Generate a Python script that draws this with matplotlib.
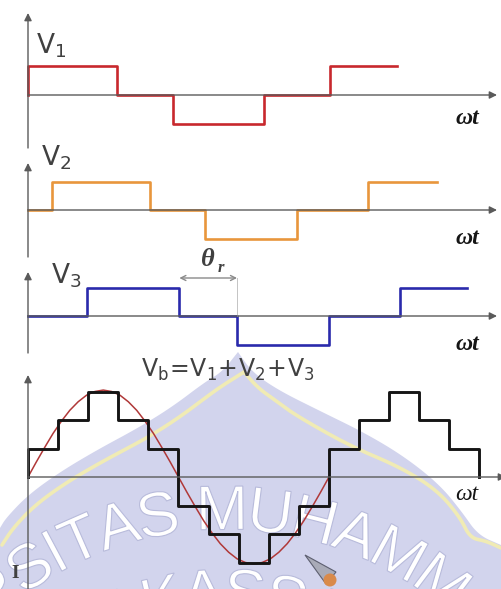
"""Multilevel inverter staircase synthesis: V1, V2, V3 and their sum Vb."""
import numpy as np
import matplotlib

matplotlib.use("Agg")
import matplotlib.pyplot as plt  # noqa: E402
from matplotlib.font_manager import FontProperties  # noqa: E402
from matplotlib.patches import Circle, PathPatch, Polygon  # noqa: E402
from matplotlib.textpath import TextPath, text_to_path  # noqa: E402
from matplotlib.transforms import Affine2D  # noqa: E402

plt.rcParams["mathtext.fontset"] = "custom"
plt.rcParams["mathtext.rm"] = "Liberation Sans"
plt.rcParams["mathtext.it"] = "Liberation Sans:italic"

W, H = 501, 589

# x is the phase angle in degrees (360 = one period of the staircase sum)
V1_X = [0, 0, 106, 173, 282, 361, 441]
V1_Y = [0, 1, 0, -1, 0, 1, 1]
V2_X = [0, 29, 146, 212, 322, 407, 489]
V2_Y = [0, 1, 0, -1, 0, 1, 1]
V3_X = [0, 71, 181, 250, 360, 445, 525]
V3_Y = [0, 1, 0, -1, 0, 1, 1]
VB_X = [0, 0, 36, 72, 108, 144, 180, 216, 252, 288, 324, 360, 396, 432, 468, 504, 540]
VB_Y = [0, 1, 2, 3, 2, 1, -1, -2, -3, -2, -1, 1, 2, 3, 2, 1, 0]
# fundamental drawn over the first period of Vb
SINE_X = [0, 10, 20, 30, 40, 50, 60, 70, 80, 90, 100, 110, 120, 130, 140, 150, 160, 170,
          180, 190, 200, 210, 220, 230, 240, 250, 260, 270, 280, 290, 300, 310, 320, 330,
          340, 350, 360]
SINE_Y = [0.00, 0.53, 1.04, 1.53, 1.96, 2.34, 2.64, 2.87, 3.00, 3.05, 3.00, 2.87, 2.64,
          2.34, 1.96, 1.53, 1.04, 0.53, 0.00, -0.53, -1.04, -1.53, -1.96, -2.34, -2.64,
          -2.87, -3.00, -3.05, -3.00, -2.87, -2.64, -2.34, -1.96, -1.53, -1.04, -0.53, 0.00]

RED, ORANGE, BLUE, BLACK = "#c8282d", "#e8963c", "#2a2aac", "#151515"
SINE_C = "#b03838"
AXIS_C = "#5a5a5a"
TEXT_C = "#404040"

X0_PX = 28                  # pixel column of the vertical axes
DEG_PER_PX = 360 / 301      # one staircase period spans ~301 px

fig = plt.figure(figsize=(W / 100, H / 100), dpi=100)


def fpos(x, y):
    """pixel (x right, y down) -> figure fraction"""
    return x / W, 1 - y / H


# ---- background emblem (pale dome, ribbon and lettering) ----------------
bg = fig.add_axes([0, 0, 1, 1], zorder=-5)
bg.set_xlim(0, W)
bg.set_ylim(0, H)
bg.axis("off")


def chaikin(pts, it=4):
    p = np.asarray(pts, float)
    for _ in range(it):
        q = 0.75 * p[:-1] + 0.25 * p[1:]
        r = 0.25 * p[:-1] + 0.75 * p[1:]
        mid = np.empty((2 * len(q), 2))
        mid[0::2], mid[1::2] = q, r
        p = np.vstack([p[:1], mid, p[-1:]])
    p[:, 1] = H - p[:, 1]
    return p


dome_left = chaikin([(238, 352), (222, 372), (205, 382), (172, 407), (138, 428), (97, 450),
                     (60, 472), (28, 495), (6, 518), (0, 528)])
dome_right = chaikin([(238, 352), (252, 372), (278, 390), (318, 410), (365, 433), (405, 457),
                      (440, 485), (462, 512), (478, 535), (501, 545)])
outline = np.vstack([[[0, 0]], dome_left[::-1], dome_right, [[W, 0]]])
bg.add_patch(Polygon(outline, closed=True, fc="#d2d4ed", ec="none"))

rib_left = chaikin([(244, 372), (228, 382), (213, 392), (180, 417), (147, 438), (105, 460),
                    (67, 482), (35, 505), (13, 528), (2, 545)])
rib_right = chaikin([(244, 372), (258, 388), (275, 400), (295, 415), (350, 446), (400, 467),
                     (437, 490), (460, 517), (470, 538), (486, 541), (501, 548)])
for rib in (rib_left, rib_right):
    bg.plot(rib[:, 0], rib[:, 1], color="#f0ebb4", lw=2.6, solid_capstyle="round")

CX, CY = 225, H - 870


def arc_text(text, r_mid, anchor_idx, anchor_s, size):
    fp = FontProperties(family="Liberation Sans", size=size)
    widths = [text_to_path.get_text_width_height_descent(ch, fp, ismath=False)[0]
              if ch != " " else 0.28 * size for ch in text]
    centers = np.cumsum(widths) - np.asarray(widths) / 2
    centers += anchor_s - centers[anchor_idx]
    cap = 0.716 * size
    for ch, w, s in zip(text, widths, centers):
        if ch == " ":
            continue
        th = np.pi / 2 - s / r_mid
        glyph = TextPath((-w / 2, -cap / 2), ch, size=size, prop=fp)
        tr = Affine2D().rotate(th - np.pi / 2).translate(CX + r_mid * np.cos(th),
                                                          CY + r_mid * np.sin(th))
        bg.add_patch(PathPatch(tr.transform_path(glyph), fc="white", ec="#b8bbdb", lw=0.8))


arc_text("UNIVERSITAS MUHAMMADIYAH", 363, 6, -208, 63)
arc_text("MAKASSAR", 280, 3, -22, 63)

# small pen nib
bg.add_patch(Polygon([(305, H - 555), (336, H - 572), (326, H - 584)],
                     closed=True, fc="#a9abb8", ec="#5d5f70", lw=0.8))
bg.add_patch(Circle((330, H - 580), 6.5, fc="#d98a4a", ec="none"))


# ---- waveform panels -----------------------------------------------------
def panel(zero_px, unit_px, top_px, bottom_px):
    ax = fig.add_axes([0, 1 - bottom_px / H, 1, (bottom_px - top_px) / H])
    ax.set_xlim(-X0_PX * DEG_PER_PX, (W - X0_PX) * DEG_PER_PX)
    ax.set_ylim(-(bottom_px - zero_px) / unit_px, (zero_px - top_px) / unit_px)
    ax.axis("off")
    return ax


def draw_axes(ax, x_tip_px):
    y_lo, y_hi = ax.get_ylim()
    style = dict(arrowstyle="-|>", color=AXIS_C, lw=1.0, mutation_scale=11,
                 shrinkA=0, shrinkB=0)
    ax.annotate("", xy=((x_tip_px - X0_PX) * DEG_PER_PX, 0), xytext=(0, 0),
                arrowprops=style, annotation_clip=False)
    ax.annotate("", xy=(0, y_hi), xytext=(0, y_lo), arrowprops=style,
                annotation_clip=False)


def omega_t(x, y, bold=True):
    fig.text(*fpos(x, y), "ωt", family="Liberation Serif", style="italic",
             weight="bold" if bold else "normal", fontsize=17, color=BLACK,
             ha="center", va="center")


ax1 = panel(95, 29, 13, 148)
draw_axes(ax1, 497)
ax1.plot(V1_X, V1_Y, drawstyle="steps-post", color=RED, lw=1.9)
fig.text(*fpos(36, 53), r"$\mathregular{V_1}$", fontsize=19, color=TEXT_C)
omega_t(467, 119)

ax2 = panel(210, 28.5, 163, 257)
draw_axes(ax2, 497)
ax2.plot(V2_X, V2_Y, drawstyle="steps-post", color=ORANGE, lw=1.9)
fig.text(*fpos(41, 166), r"$\mathregular{V_2}$", fontsize=19, color=TEXT_C)
omega_t(467, 238)

ax3 = panel(316, 28.5, 272, 353)
draw_axes(ax3, 497)
ax3.plot(V3_X, V3_Y, drawstyle="steps-post", color=BLUE, lw=1.9)
fig.text(*fpos(51, 283), r"$\mathregular{V_3}$", fontsize=19, color=TEXT_C)
omega_t(467, 344)

# delay angle between successive cells
theta_lvl = (316 - 278) / 28.5
ax3.plot([V3_X[3], V3_X[3]], [0, theta_lvl], color="#c4c4c4", lw=0.7)
ax3.annotate("", xy=(V3_X[3], theta_lvl), xytext=(V3_X[2], theta_lvl),
             arrowprops=dict(arrowstyle="<->", color="#8a8a8a", lw=1.0,
                             mutation_scale=9, shrinkA=0, shrinkB=0))
fig.text(*fpos(208, 259), "θ", family="Liberation Serif", style="italic",
         weight="bold", fontsize=19, color=TEXT_C, ha="center", va="center")
fig.text(*fpos(221, 268), "r", family="Liberation Serif", style="italic",
         weight="bold", fontsize=12, color=TEXT_C, ha="center", va="center")

ax4 = panel(477, 28.5, 375, 589)
draw_axes(ax4, 506)
ax4.plot(SINE_X, SINE_Y, color=SINE_C, lw=1.1)
ax4.plot(VB_X, VB_Y, drawstyle="steps-post", color=BLACK, lw=2.1)
fig.text(*fpos(141, 377), r"$\mathregular{V_b\!=\!V_1\!+\!V_2\!+\!V_3}$", fontsize=17,
         color=TEXT_C)
omega_t(467, 494, bold=False)
fig.text(*fpos(15, 574), "I", family="Liberation Serif", weight="bold", fontsize=14,
         color=TEXT_C, ha="center", va="center")

fig.savefig("out.png", dpi=100)
